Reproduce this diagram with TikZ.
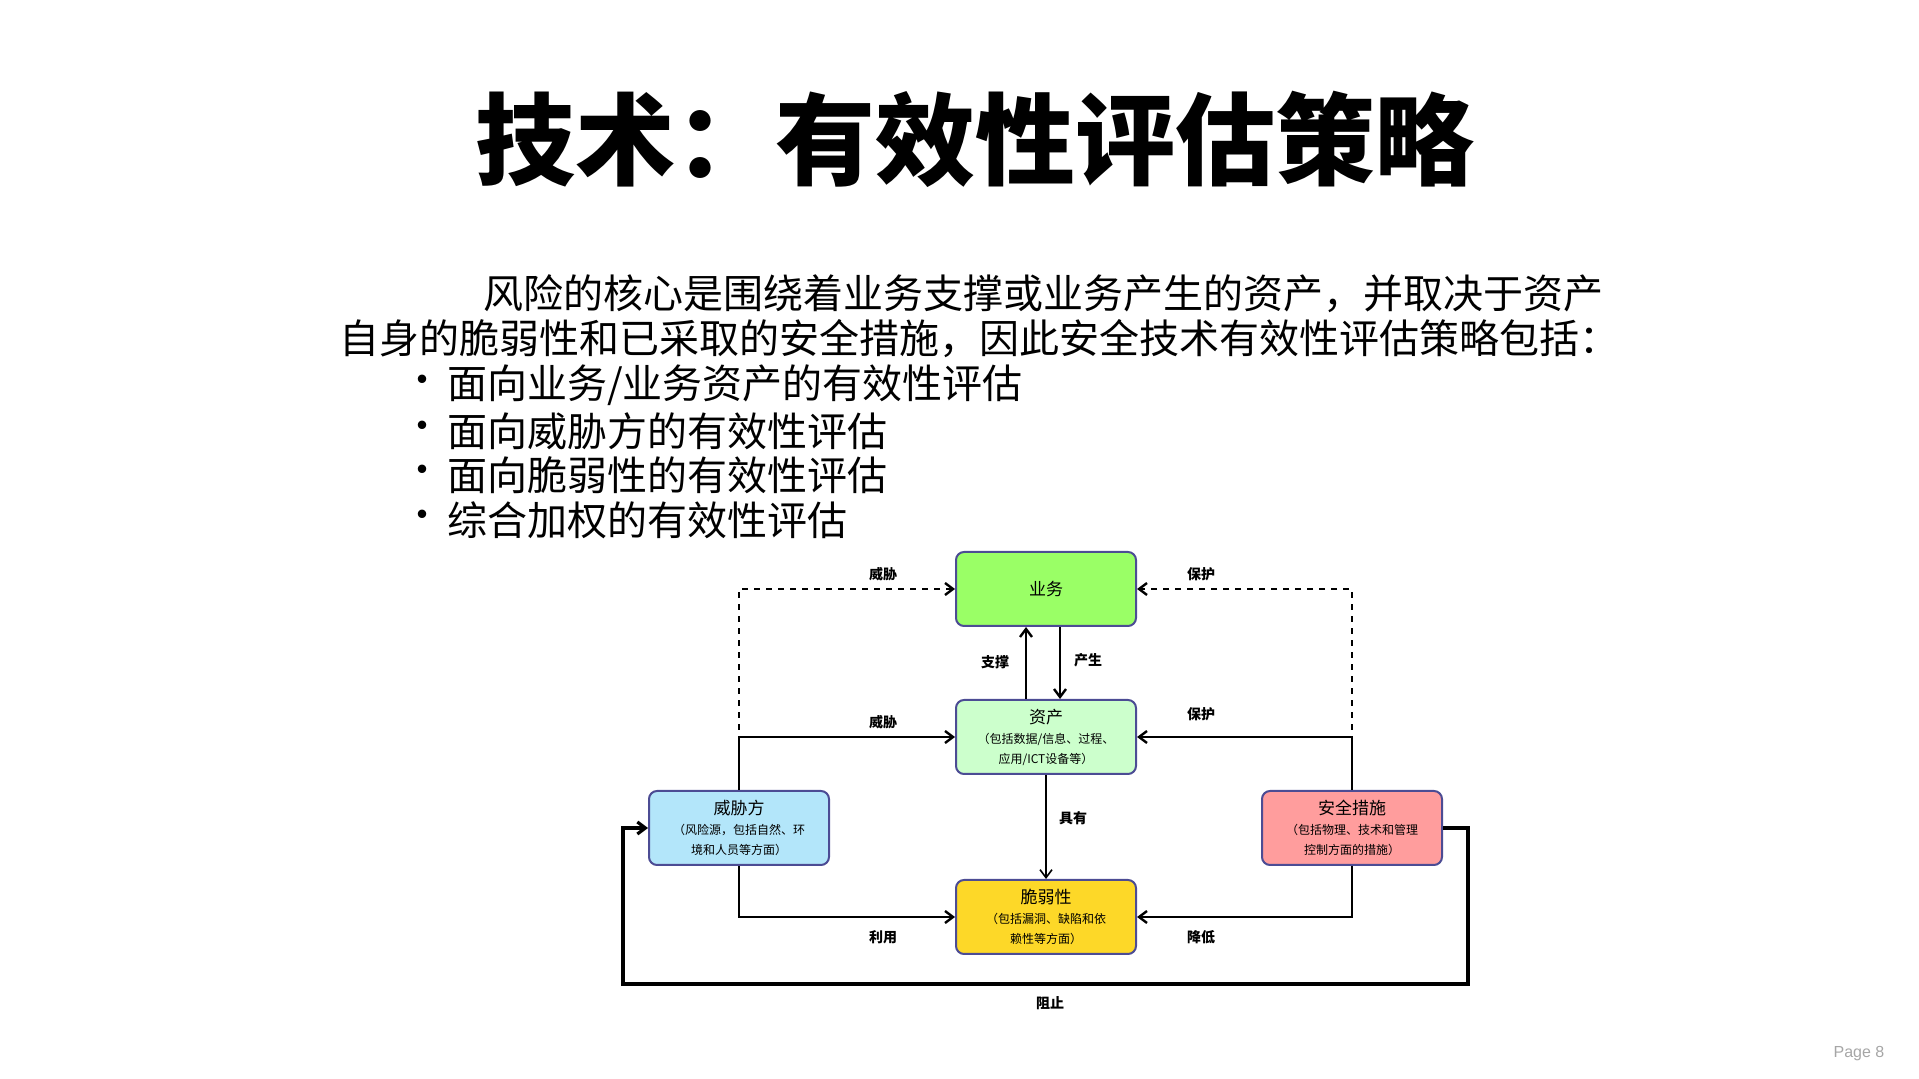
\documentclass[tikz,border=0pt]{standalone}
\usepackage{fontspec}
\setmainfont{Liberation Sans}
\newfontfamily\cjk{Noto Sans CJK SC}
\usetikzlibrary{arrows.meta}
\newcommand\smt{\fontsize{6}{7}\selectfont}
\begin{document}
\begin{tikzpicture}[x=0.5pt,y=-0.5pt,
 bx/.style={draw=blue!40!black!70,line width=1pt,rounded corners=4pt,minimum width=90pt,minimum height=37pt,align=center,inner sep=1pt,font=\cjk\fontsize{8.5}{10}\selectfont},
 lab/.style={font=\cjk\bfseries\fontsize{7}{8}\selectfont},
 ar/.style={-{Straight Barb[length=4pt,width=6pt]},line width=1.2pt}]
\useasboundingbox (0,0) rectangle (1919,1079);
\node[font=\cjk\bfseries\fontsize{50}{54}\selectfont] (title) at (975,139) {技术：有效性评估策略};
\node[anchor=west,font=\cjk\fontsize{20}{24}\selectfont] (p1) at (476,294) {风险的核心是围绕着业务支撑或业务产生的资产，并取决于资产};
\node[anchor=west,font=\cjk\fontsize{20}{24}\selectfont] (p2) at (332,339) {自身的脆弱性和已采取的安全措施，因此安全技术有效性评估策略包括：};
\foreach \t/\y in {{面向业务/业务资产的有效性评估}/385,{面向威胁方的有效性评估}/431,{面向脆弱性的有效性评估}/475,{综合加权的有效性评估}/520}{
 \node[anchor=west,font=\cjk\fontsize{20}{24}\selectfont] at (395,\y) {•};
 \node[anchor=west,font=\cjk\fontsize{20}{24}\selectfont] at (440,\y) {\t};}
\node[bx,fill=green!55!lime!60] (yw) at (1046,589) {业务};
\node[bx,fill=green!20] (zc) at (1046,737) {资产\\ \smt （包括数据/信息、过程、\\ \smt 应用/ICT设备等）};
\node[bx,fill=cyan!30] (wx) at (739,828) {威胁方\\ \smt （风险源，包括自然、环\\ \smt 境和人员等方面）};
\node[bx,fill=red!40!pink!70] (aq) at (1352,828) {安全措施\\ \smt （包括物理、技术和管理\\ \smt 控制方面的措施）};
\node[bx,fill=yellow!70!orange!85] (cr) at (1046,917) {脆弱性\\ \smt （包括漏洞、缺陷和依\\ \smt 赖性等方面）};
\draw[ar,dashed] (wx.north) -- (739,589) -- (yw.west);
\draw[ar,dashed] (aq.north) -- (1352,589) -- (yw.east);
\draw[ar] (wx.north) |- (zc.west);
\draw[ar] (aq.north) |- (zc.east);
\draw[ar] (wx.south) |- (cr.west);
\draw[ar] (aq.south) |- (cr.east);
\draw[ar] ([xshift=-10pt]zc.north) -- ([xshift=-10pt]yw.south);
\draw[ar] ([xshift=7pt]yw.south) -- ([xshift=7pt]zc.north);
\draw[ar,line width=0.8pt] (zc.south) -- (cr.north);
\draw[ar,line width=1.6pt] (aq.east) -- (1468,828) -- (1468,984) -- (623,984) -- (623,828) -- (wx.west);
\node[lab] at (883,574) {威胁};
\node[lab] at (1201,574) {保护};
\node[lab] at (995,662) {支撑};
\node[lab] at (1088,660) {产生};
\node[lab] at (883,722) {威胁};
\node[lab] at (1201,714) {保护};
\node[lab] at (1073,818) {具有};
\node[lab] at (883,937) {利用};
\node[lab] at (1201,937) {降低};
\node[lab] at (1050,1003) {阻止};
\node[font=\fontsize{8}{9}\selectfont,text=gray!70] (pg) at (1859,1054) {Page 8};
\end{tikzpicture}
\end{document}
